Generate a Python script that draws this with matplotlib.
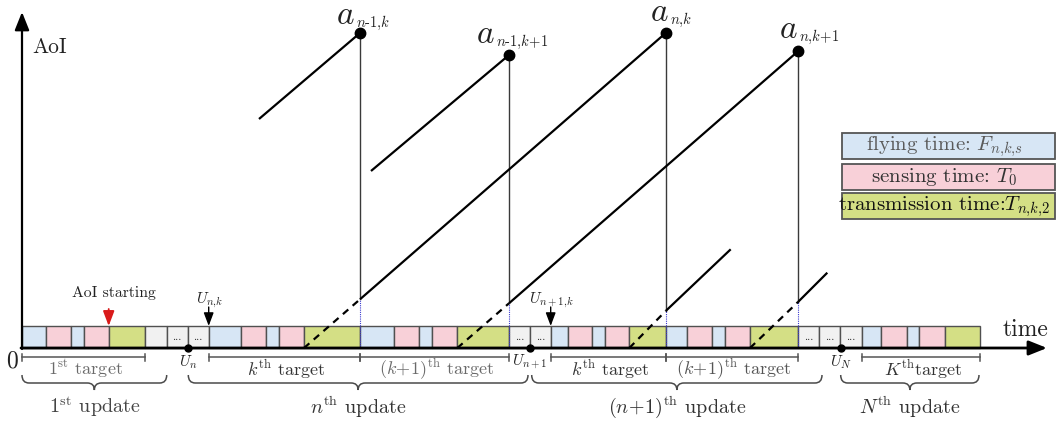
import matplotlib
matplotlib.use("Agg")
import matplotlib.pyplot as plt
from matplotlib.patches import Rectangle, PathPatch
from matplotlib.path import Path

plt.rcParams["font.family"] = "serif"
plt.rcParams["font.serif"] = ["cmr10"]
plt.rcParams["mathtext.fontset"] = "cm"
plt.rcParams["axes.unicode_minus"] = False
plt.rcParams["axes.formatter.use_mathtext"] = True

# ---------------------------------------------------------------- data
# time slots of the UAV schedule (boundaries and slot type)
block_edges = [22, 45.7, 71, 84, 108.7, 145.3, 166.7, 187.7, 208.7, 240.7,
               266, 279.3, 304, 360, 394.3, 419.3, 432.3, 457.3, 509, 530,
               550.7, 567.7, 592.3, 605, 629.3, 665.7, 687.3, 712.3, 725,
               750, 798.3, 819.3, 840.3, 861.7, 881.3, 906.7, 919.3, 945, 980]
block_kinds = ["fly", "sense", "fly", "sense", "tx", "idle", "gap", "gap",
               "fly", "sense", "fly", "sense", "tx",
               "fly", "sense", "fly", "sense", "tx", "gap", "gap",
               "fly", "sense", "fly", "sense", "tx",
               "fly", "sense", "fly", "sense", "tx", "gap", "gap", "gap",
               "fly", "sense", "fly", "sense", "tx"]

# update instants
update_times = [188.3, 530, 840.7]
update_time_labels = [r"$U_n$", r"$U_{n+1}$", r"$U_N$"]

# first-target instants inside an update
target_mark_times = [208.7, 550.7]
target_mark_labels = [r"$U_{n{,}k}$", r"$U_{n+1{,}k}$"]

aoi_start_time = 108.7

# per-target intervals
target_starts = [22, 208.7, 360, 550.7, 665.7, 861.7]
target_ends = [145.3, 360, 509, 665.7, 798.3, 980]
target_names = [r"$1^{\mathrm{st}}$ target", r"$k^{\mathrm{th}}$ target",
                r"$(k\!+\!1)^{\mathrm{th}}$ target", r"$k^{\mathrm{th}}$ target",
                r"$(k\!+\!1)^{\mathrm{th}}$ target", r"$K^{\mathrm{th}}$target"]

# per-update intervals
update_starts = [22, 188.3, 531.7, 840.7]
update_ends = [166.7, 528, 822, 979]
update_names = [r"$1^{\mathrm{st}}$ update", r"$n^{\mathrm{th}}$ update",
                r"$(n\!+\!1)^{\mathrm{th}}$ update", r"$N^{\mathrm{th}}$ update"]

# AoI: visible (solid) segments
seg_t0 = [259, 371, 360, 509, 665.7, 798.3]
seg_a0 = [229, 177, 48.7, 44.7, 37, 46.3]
seg_t1 = [360, 509, 665.7, 798.3, 730.7, 827.3]
seg_a1 = [315, 293, 315, 297, 98.7, 75.3]

# AoI during transmission (dashed, not yet delivered)
dash_t0 = [304, 457.3, 629.3, 750]
dash_t1 = [360, 509, 665.7, 798.3]
dash_a1 = [48.7, 44.7, 37, 46.3]

# AoI peaks
peak_times = [360, 509, 665.7, 798.3]
peak_aoi = [315, 293, 315, 297]
peak_drop_to = [48.7, 44.7, 37, 46.3]
peak_subscripts = [r"$n\text{-}1{,}k$", r"$n\text{-}1{,}k\!+\!1$", r"$n{,}k$",
                   r"$n{,}k\!+\!1$"]

legend_kinds = ["fly", "sense", "tx"]
legend_texts = [r"flying time: $F_{n{,}k{,}s}$", r"sensing time: $T_0$",
                r"transmission time:$T_{n{,}k{,}2}$"]

# ---------------------------------------------------------------- style
colors = {"fly": "#d7e6f5", "sense": "#f8d0d8", "tx": "#d4df85",
          "idle": "#f1f1f1", "gap": "#f1f1f1"}
block_h = 22
edge = "#505050"

fig = plt.figure(figsize=(10.56, 4.23), dpi=100)
ax = fig.add_axes([0, 0, 1, 1])
ax.set_xlim(0, 1056)
ax.set_ylim(-75, 348)
ax.axis("off")

# slots
for x0, x1, kind in zip(block_edges[:-1], block_edges[1:], block_kinds):
    ax.add_patch(Rectangle((x0, 0), x1 - x0, block_h, facecolor=colors[kind],
                           edgecolor=edge, lw=1.0, zorder=2))
    if kind == "gap":
        ax.text((x0 + x1) / 2, 6, "...", ha="center", va="bottom",
                fontsize=8, color="#222", zorder=3)

# AoI curves
for t0, a0, t1, a1 in zip(seg_t0, seg_a0, seg_t1, seg_a1):
    ax.plot([t0, t1], [a0, a1], color="black", lw=1.6, zorder=4,
            solid_capstyle="butt")
for t0, t1, a1 in zip(dash_t0, dash_t1, dash_a1):
    ax.plot([t0, t1], [0, a1], color="black", lw=1.6, zorder=4,
            dashes=(3.2, 2.6))
for t, a, lo in zip(peak_times, peak_aoi, peak_drop_to):
    ax.plot([t, t], [lo, a], color="#3a3a3a", lw=1.0, zorder=3)
    ax.plot([t, t], [0, lo], color="#3b3bd0", lw=0.8, ls=(0, (1, 1)), zorder=3)
    ax.plot(t, a, "o", color="black", ms=7.5, zorder=5)

# peak labels: large "a" with a small subscript
label_dx = [-24, -33, -16, -19]
label_dy = [9.4, 11.7, 11.6, 12.7]
for t, a, sub, dx, dy in zip(peak_times, peak_aoi, peak_subscripts, label_dx, label_dy):
    ax.text(t + dx, a + dy, r"$a$", fontsize=24, ha="left", va="baseline",
            color="#222")
    ax.text(t + dx + 20, a + dy - 3, sub, fontsize=10.5, ha="left",
            va="baseline", color="#222")

# axes with arrows
ax.annotate("", xy=(1047, 0), xytext=(21, 0),
            arrowprops=dict(arrowstyle="-|>,head_length=0.55,head_width=0.22",
                            mutation_scale=20, lw=2.0, color="black",
                            shrinkA=0, shrinkB=0), zorder=6)
ax.annotate("", xy=(22, 336), xytext=(22, -1),
            arrowprops=dict(arrowstyle="-|>,head_length=0.55,head_width=0.22",
                            mutation_scale=20, lw=1.6, color="black",
                            shrinkA=0, shrinkB=0), zorder=6)
ax.text(32, 301, "AoI", fontsize=15.5, ha="left", va="center", color="#222")
ax.text(1025, 18, "time", fontsize=17, ha="center", va="center", color="#222")
ax.text(12, -13, "0", fontsize=17, ha="center", va="center", color="#222")

# update instants
for t, lab in zip(update_times, update_time_labels):
    ax.plot(t, 0, "o", color="black", ms=5, zorder=7)
    ax.text(t, -14, lab, fontsize=11, ha="center", va="center", color="#222")

# first-target instants
for t, lab in zip(target_mark_times, target_mark_labels):
    ax.annotate("", xy=(t, block_h), xytext=(t, 41),
                arrowprops=dict(arrowstyle="-|>,head_length=0.4,head_width=0.15",
                                mutation_scale=20, lw=1.0, color="black",
                                shrinkA=0, shrinkB=0), zorder=6)
    ax.text(t + 1, 48, lab, fontsize=11, ha="center", va="center", color="#222")

# AoI starting marker
ax.annotate("", xy=(aoi_start_time, block_h), xytext=(aoi_start_time, 39),
            arrowprops=dict(arrowstyle="-|>,head_length=0.45,head_width=0.17",
                            mutation_scale=20, lw=1.3, color="#d91a1a",
                            shrinkA=0, shrinkB=0), zorder=6)
ax.text(114, 55, "AoI starting", fontsize=11.3, ha="center", va="center",
        color="#222")

# target spans
dim_y = -9.3
target_colors = ["#6a6a6a", "#333333", "#6a6a6a", "#333333", "#555555", "#333333"]
for x0, x1, name, c in zip(target_starts, target_ends, target_names, target_colors):
    ax.plot([x0, x1], [dim_y, dim_y], color="#555", lw=1.1, zorder=3)
    for x in (x0, x1):
        ax.plot([x, x], [dim_y + 3.3, dim_y - 3.3], color="#555", lw=1.1, zorder=3)
    ax.text((x0 + x1) / 2 + 2, -21, name, fontsize=13, ha="center",
            va="center", color=c)


def brace(x0, x1, y_top, y_mid, y_tip, r=7):
    xm = (x0 + x1) / 2
    verts = [(x0, y_top), (x0, y_mid), (x0 + r, y_mid),
             (xm - r, y_mid), (xm, y_mid), (xm, y_tip),
             (xm, y_mid), (xm + r, y_mid),
             (x1 - r, y_mid), (x1, y_mid), (x1, y_top)]
    codes = [Path.MOVETO, Path.CURVE3, Path.CURVE3, Path.LINETO, Path.CURVE3,
             Path.CURVE3, Path.CURVE3, Path.CURVE3, Path.LINETO, Path.CURVE3,
             Path.CURVE3]
    ax.add_patch(PathPatch(Path(verts, codes), facecolor="none",
                           edgecolor="#4a4a4a", lw=1.1, zorder=3))
    return xm


update_colors = ["#444444", "#333333", "#333333", "#333333"]
for x0, x1, name, c in zip(update_starts, update_ends, update_names, update_colors):
    xm = brace(x0, x1, -27, -35, -42)
    ax.text(xm, -59, name, fontsize=14.5, ha="center", va="center", color=c)

# legend boxes
legend_y = [188.7, 158, 128.7]
legend_text_colors = ["#5a5a5a", "#333333", "#111111"]
for kind, text, y, c in zip(legend_kinds, legend_texts, legend_y, legend_text_colors):
    ax.add_patch(Rectangle((842.3, y), 212.7, 26, facecolor=colors[kind],
                           edgecolor="#555", lw=1.3, zorder=2))
    ax.text(944, y + 13, text, fontsize=15, ha="center", va="center", color=c,
            zorder=3)

fig.savefig("out.png", dpi=100)
